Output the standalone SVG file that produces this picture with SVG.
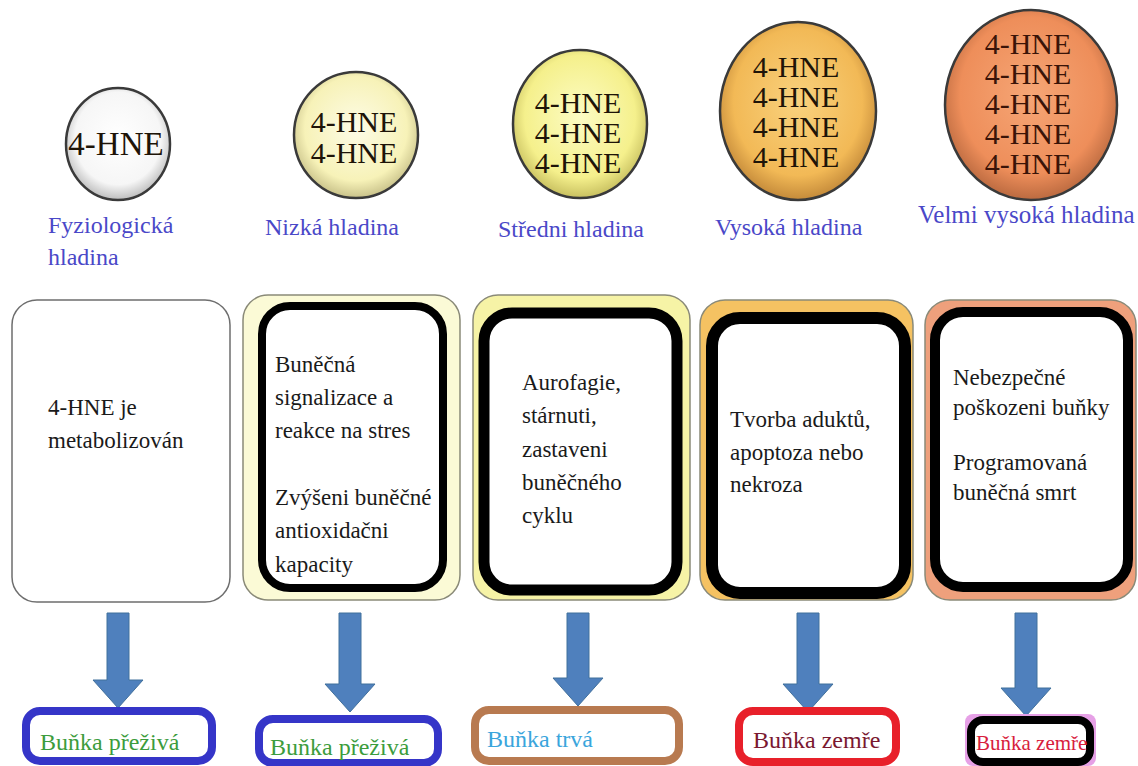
<svg xmlns="http://www.w3.org/2000/svg" width="1138" height="766" viewBox="0 0 1138 766" font-family="'Liberation Serif', 'Times New Roman', 'DejaVu Serif', serif">
<defs>
<radialGradient id="g1" cx="50%" cy="45%" r="55%"><stop offset="0" stop-color="#ffffff"/><stop offset="0.75" stop-color="#f6f6f6"/><stop offset="1" stop-color="#bdbdbd"/></radialGradient>
<radialGradient id="g2" cx="50%" cy="45%" r="55%"><stop offset="0" stop-color="#fdfce6"/><stop offset="0.75" stop-color="#f7f2b8"/><stop offset="1" stop-color="#c9c28a"/></radialGradient>
<radialGradient id="g3" cx="50%" cy="45%" r="55%"><stop offset="0" stop-color="#fcfcc4"/><stop offset="0.75" stop-color="#f5f08c"/><stop offset="1" stop-color="#c8c060"/></radialGradient>
<radialGradient id="g4" cx="50%" cy="45%" r="55%"><stop offset="0" stop-color="#f9d27e"/><stop offset="0.75" stop-color="#f2b956"/><stop offset="1" stop-color="#c48a3a"/></radialGradient>
<radialGradient id="g5" cx="50%" cy="45%" r="55%"><stop offset="0" stop-color="#f6a676"/><stop offset="0.75" stop-color="#ee8e5a"/><stop offset="1" stop-color="#bb6a40"/></radialGradient>
<style>
text{font-family:'Liberation Serif','Times New Roman','DejaVu Serif',serif}
.circ{stroke:#3a3a3a;stroke-width:2.5}
.hne{font-size:30px;fill:#1e1408;text-anchor:middle}
.lbl{font-size:24px;fill:#4a48c8}
.outer{stroke:#8a8a78;stroke-width:1.5}
.inner{fill:#ffffff;stroke:#000000}
.txt{font-size:23px;fill:#1a1a1a}
.arrow{fill:#4f80bd;stroke:#41709c;stroke-width:1}
.res{fill:#ffffff;stroke-width:8}
.rtxt{font-size:24px}
</style>
</defs>
<rect width="1138" height="766" fill="#ffffff"/>

<g id="level1">
<ellipse class="circ" cx="118" cy="144" rx="52" ry="56" fill="url(#g1)"/>
<text class="hne" x="116" y="155" style="font-size:33px">4-HNE</text>
<text class="lbl" x="48" y="233">Fyziologická</text>
<text class="lbl" x="48" y="265">hladina</text>
</g>
<g id="level2">
<ellipse class="circ" cx="356" cy="135" rx="62" ry="63" fill="url(#g2)"/>
<text class="hne" x="354" y="132">4-HNE</text>
<text class="hne" x="354" y="163">4-HNE</text>
<text class="lbl" x="265" y="235">Nizká hladina</text>
</g>
<g id="level3">
<ellipse class="circ" cx="580" cy="124" rx="67" ry="74" fill="url(#g3)"/>
<text class="hne" x="578" y="113">4-HNE</text>
<text class="hne" x="578" y="143">4-HNE</text>
<text class="hne" x="578" y="173">4-HNE</text>
<text class="lbl" x="498" y="237">Středni hladina</text>
</g>
<g id="level4">
<ellipse class="circ" cx="798" cy="111" rx="78" ry="89" fill="url(#g4)"/>
<text class="hne" x="796" y="77">4-HNE</text>
<text class="hne" x="796" y="107">4-HNE</text>
<text class="hne" x="796" y="137">4-HNE</text>
<text class="hne" x="796" y="167">4-HNE</text>
<text class="lbl" x="715" y="235">Vysoká hladina</text>
</g>
<g id="level5">
<ellipse class="circ" cx="1031" cy="105" rx="86" ry="95" fill="url(#g5)"/>
<text class="hne" x="1028" y="54" style="fill:#3a1408">4-HNE</text>
<text class="hne" x="1028" y="84" style="fill:#3a1408">4-HNE</text>
<text class="hne" x="1028" y="114" style="fill:#3a1408">4-HNE</text>
<text class="hne" x="1028" y="144" style="fill:#3a1408">4-HNE</text>
<text class="hne" x="1028" y="174" style="fill:#3a1408">4-HNE</text>
<text class="lbl" x="918" y="223" style="font-size:25px">Velmi vysoká hladina</text>
</g>

<g id="effect1">
<rect class="outer" x="12" y="300" width="218" height="302" rx="25" fill="#ffffff" style="stroke:#6e6e6e"/>
<text class="txt" x="48" y="415">4-HNE je</text>
<text class="txt" x="48" y="448">metabolizován</text>
</g>
<g id="effect2">
<rect class="outer" x="243" y="295" width="217" height="305" rx="25" fill="#fbfad6"/>
<rect x="262" y="306" width="181" height="282" rx="28" fill="#ffffff"/>
<text class="txt" x="275" y="372">Buněčná</text>
<text class="txt" x="275" y="405">signalizace a</text>
<text class="txt" x="275" y="438">reakce na stres</text>
<text class="txt" x="275" y="505">Zvýšeni buněčné</text>
<text class="txt" x="275" y="538">antioxidačni</text>
<text class="txt" x="275" y="572">kapacity</text>
<rect x="262" y="306" width="181" height="282" rx="28" fill="none" stroke="#000000" stroke-width="8"/>
</g>
<g id="effect3">
<rect class="outer" x="473" y="295" width="217" height="305" rx="25" fill="#f6f3a6"/>
<rect class="inner" x="484" y="313" width="193" height="277" rx="28" stroke-width="11"/>
<text class="txt" x="522" y="390">Aurofagie,</text>
<text class="txt" x="522" y="423">stárnuti,</text>
<text class="txt" x="522" y="457">zastaveni</text>
<text class="txt" x="522" y="490">buněčného</text>
<text class="txt" x="522" y="523">cyklu</text>
</g>
<g id="effect4">
<rect class="outer" x="700" y="300" width="213" height="300" rx="25" fill="#f5c262"/>
<rect class="inner" x="712" y="318" width="193" height="275" rx="28" stroke-width="12"/>
<text class="txt" x="730" y="427">Tvorba aduktů,</text>
<text class="txt" x="730" y="460">apoptoza nebo</text>
<text class="txt" x="730" y="492">nekroza</text>
</g>
<g id="effect5">
<rect class="outer" x="925" y="300" width="211" height="300" rx="25" fill="#eea07c"/>
<rect class="inner" x="935" y="312" width="193" height="275" rx="28" stroke-width="10"/>
<text class="txt" x="953" y="385">Nebezpečné</text>
<text class="txt" x="953" y="415">poškozeni buňky</text>
<text class="txt" x="953" y="470">Programovaná</text>
<text class="txt" x="953" y="500">buněčná smrt</text>
</g>

<g id="connectors">
<polygon class="arrow" points="107,613 129,613 129,680 143,680 118,708 93,680 107,680"/>
<polygon class="arrow" points="339,613 361,613 361,684 375,684 350,712 325,684 339,684"/>
<polygon class="arrow" points="567,613 589,613 589,678 603,678 578,706 553,678 567,678"/>
<polygon class="arrow" points="797,613 819,613 819,684 833,684 808,712 783,684 797,684"/>
<polygon class="arrow" points="1015,613 1037,613 1037,688 1051,688 1026,716 1001,688 1015,688"/>
</g>

<g id="result1">
<rect class="res" x="26" y="711" width="186" height="50" rx="14" stroke="#3535c8"/>
<text class="rtxt" x="40" y="750" fill="#3c9c3c">Buňka přeživá</text>
</g>
<g id="result2">
<rect class="res" x="259" y="719" width="179" height="44" rx="14" stroke="#3535c8"/>
<text class="rtxt" x="270" y="755" fill="#3c9c3c">Buňka přeživá</text>
</g>
<g id="result3">
<rect class="res" x="475" y="710" width="204" height="51" rx="14" stroke="#b87a50"/>
<text class="rtxt" x="487" y="747" fill="#3aa5dc">Buňka trvá</text>
</g>
<g id="result4">
<rect class="res" x="739" y="711" width="157" height="51" rx="14" stroke="#e8202a"/>
<text class="rtxt" x="753" y="748" fill="#7a1830">Buňka zemře</text>
</g>
<g id="result5">
<rect x="965" y="714" width="131" height="52" rx="8" fill="#e6a0e6"/>
<rect class="res" x="971" y="720" width="119" height="42" rx="12" stroke="#000000"/>
<text class="rtxt" x="976" y="750" fill="#d8203c" style="font-size:21px">Buňka zemře</text>
</g>
</svg>
